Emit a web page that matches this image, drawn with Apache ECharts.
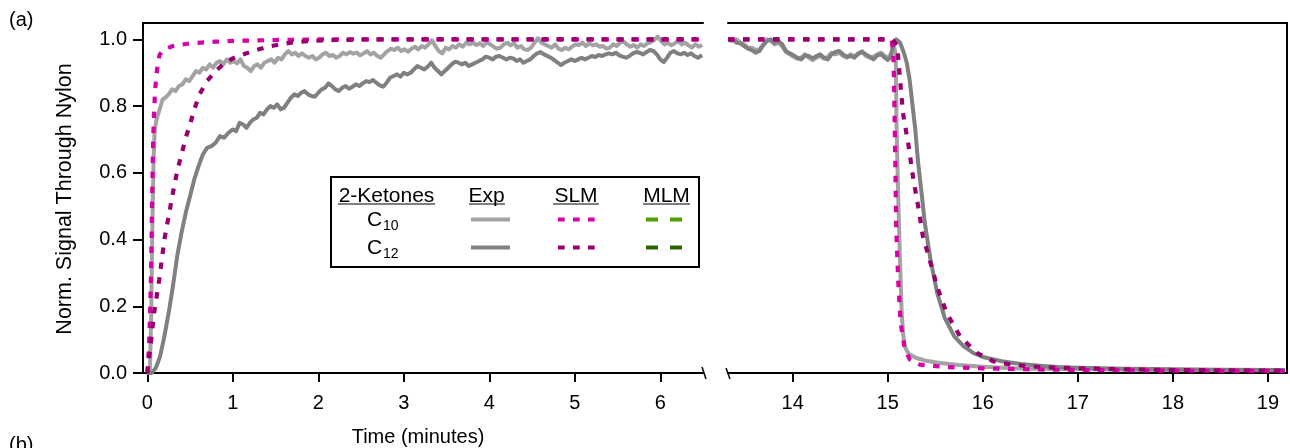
<!DOCTYPE html>
<html>
<head>
<meta charset="utf-8">
<script src="https://cdn.jsdelivr.net/npm/echarts@6/dist/echarts.min.js"></script>
<style>html,body{margin:0;padding:0;background:#fff}#c{width:1290px;height:448px}</style>
</head>
<body>
<div id="c"></div>
<script>
// ---------- DATA ----------
const leftTicks = [0, 1, 2, 3, 4, 5, 6];
const rightTicks = [14, 15, 16, 17, 18, 19];
const yTicks = [0, 0.2, 0.4, 0.6, 0.8, 1.0];

// Experimental C10 (left panel, adsorption)
const expC10Left = [[0,0],[0.03,0.005],[0.045,0.16],[0.055,0.36],[0.065,0.52],[0.075,0.65],[0.085,0.72],[0.1,0.75],[0.12,0.77],[0.15,0.795],[0.18,0.82],[0.21,0.825],[0.25,0.835],[0.29,0.85],[0.33,0.845],[0.37,0.86],[0.41,0.865],[0.45,0.88],[0.49,0.875],[0.53,0.89],[0.57,0.905],[0.61,0.9],[0.65,0.915],[0.69,0.91],[0.73,0.925],[0.77,0.915],[0.81,0.93],[0.85,0.935],[0.89,0.925],[0.93,0.94],[0.97,0.93],[1.01,0.935],[1.05,0.928],[1.09,0.94],[1.13,0.92],[1.17,0.915],[1.21,0.905],[1.25,0.92],[1.29,0.925],[1.33,0.915],[1.37,0.93],[1.41,0.935],[1.45,0.94],[1.49,0.93],[1.53,0.945],[1.57,0.94],[1.61,0.955],[1.65,0.965],[1.69,0.955],[1.73,0.96],[1.77,0.95],[1.81,0.958],[1.85,0.95],[1.89,0.945],[1.93,0.95],[1.97,0.94],[2.01,0.945],[2.05,0.955],[2.09,0.96],[2.13,0.95],[2.17,0.953],[2.21,0.945],[2.25,0.95],[2.29,0.96],[2.33,0.955],[2.37,0.962],[2.41,0.957],[2.45,0.96],[2.49,0.952],[2.53,0.958],[2.57,0.965],[2.61,0.955],[2.65,0.96],[2.69,0.95],[2.73,0.945],[2.77,0.955],[2.81,0.965],[2.85,0.972],[2.89,0.968],[2.93,0.975],[2.97,0.965],[3.01,0.97],[3.05,0.963],[3.09,0.972],[3.13,0.978],[3.17,0.97],[3.21,0.98],[3.25,0.975],[3.29,0.985],[3.33,0.997],[3.37,0.98],[3.41,0.965],[3.45,0.958],[3.49,0.975],[3.53,0.97],[3.57,0.98],[3.61,0.975],[3.65,0.985],[3.69,0.978],[3.73,0.99],[3.77,0.985],[3.81,0.99],[3.85,0.983],[3.89,0.988],[3.93,0.98],[3.97,0.992],[4.01,0.985],[4.05,0.978],[4.09,0.972],[4.13,0.975],[4.17,0.985],[4.21,0.99],[4.25,0.982],[4.29,0.988],[4.33,0.975],[4.37,0.98],[4.41,0.97],[4.45,0.968],[4.49,0.975],[4.53,0.99],[4.57,1.003],[4.61,0.99],[4.65,0.985],[4.69,0.98],[4.73,0.975],[4.77,0.985],[4.81,0.972],[4.85,0.968],[4.89,0.975],[4.93,0.97],[4.97,0.978],[5.01,0.985],[5.05,0.983],[5.09,0.99],[5.13,0.98],[5.17,0.988],[5.21,0.982],[5.25,0.985],[5.29,0.978],[5.33,0.98],[5.37,0.972],[5.41,0.975],[5.45,0.985],[5.49,0.98],[5.53,0.99],[5.57,0.993],[5.61,0.985],[5.65,0.978],[5.69,0.983],[5.73,0.975],[5.77,0.985],[5.81,0.98],[5.85,0.988],[5.89,0.992],[5.93,0.998],[5.97,1.008],[6.01,0.995],[6.05,0.985],[6.09,0.99],[6.13,0.982],[6.17,0.988],[6.21,0.995],[6.25,0.985],[6.29,0.99],[6.33,0.982],[6.37,0.975],[6.41,0.985],[6.45,0.978],[6.49,0.983]];

// Experimental C12 (left panel)
const expC12Left = [[0,0],[0.05,0.0],[0.1,0.015],[0.15,0.05],[0.2,0.11],[0.25,0.18],[0.3,0.26],[0.35,0.35],[0.4,0.42],[0.45,0.48],[0.5,0.53],[0.55,0.58],[0.6,0.62],[0.65,0.655],[0.7,0.675],[0.75,0.68],[0.8,0.69],[0.85,0.71],[0.9,0.705],[0.95,0.72],[1.0,0.73],[1.04,0.725],[1.08,0.75],[1.12,0.745],[1.16,0.735],[1.2,0.75],[1.24,0.76],[1.28,0.765],[1.32,0.78],[1.36,0.775],[1.4,0.79],[1.44,0.8],[1.48,0.795],[1.52,0.805],[1.56,0.79],[1.6,0.795],[1.64,0.81],[1.68,0.825],[1.72,0.835],[1.76,0.83],[1.8,0.84],[1.84,0.845],[1.88,0.835],[1.92,0.83],[1.96,0.828],[2.0,0.84],[2.04,0.85],[2.08,0.855],[2.12,0.868],[2.16,0.86],[2.2,0.85],[2.24,0.845],[2.28,0.855],[2.32,0.86],[2.36,0.852],[2.4,0.858],[2.44,0.865],[2.48,0.86],[2.52,0.868],[2.56,0.875],[2.6,0.872],[2.64,0.878],[2.68,0.87],[2.72,0.862],[2.76,0.858],[2.8,0.87],[2.84,0.885],[2.88,0.89],[2.92,0.895],[2.96,0.888],[3.0,0.9],[3.04,0.895],[3.08,0.9],[3.12,0.91],[3.16,0.92],[3.2,0.915],[3.24,0.91],[3.28,0.918],[3.32,0.93],[3.36,0.915],[3.4,0.905],[3.44,0.895],[3.48,0.905],[3.52,0.915],[3.56,0.925],[3.6,0.933],[3.64,0.93],[3.68,0.925],[3.72,0.93],[3.76,0.92],[3.8,0.925],[3.84,0.93],[3.88,0.935],[3.92,0.94],[3.96,0.948],[4.0,0.945],[4.04,0.94],[4.08,0.948],[4.12,0.95],[4.16,0.945],[4.2,0.94],[4.24,0.945],[4.28,0.943],[4.32,0.935],[4.36,0.94],[4.4,0.93],[4.44,0.935],[4.48,0.94],[4.52,0.95],[4.56,0.958],[4.6,0.962],[4.64,0.955],[4.68,0.95],[4.72,0.945],[4.76,0.938],[4.8,0.93],[4.84,0.923],[4.88,0.93],[4.92,0.935],[4.96,0.94],[5.0,0.935],[5.04,0.94],[5.08,0.945],[5.12,0.94],[5.16,0.945],[5.2,0.95],[5.24,0.947],[5.28,0.953],[5.32,0.95],[5.36,0.955],[5.4,0.958],[5.44,0.955],[5.48,0.96],[5.52,0.952],[5.56,0.948],[5.6,0.945],[5.64,0.95],[5.68,0.958],[5.72,0.962],[5.76,0.96],[5.8,0.955],[5.84,0.962],[5.88,0.968],[5.92,0.965],[5.96,0.955],[6.0,0.94],[6.04,0.932],[6.08,0.945],[6.12,0.96],[6.16,0.965],[6.2,0.958],[6.24,0.955],[6.28,0.96],[6.32,0.953],[6.36,0.958],[6.4,0.95],[6.44,0.945],[6.49,0.952]];

// SLM model, left panel
const slmC10Left = [[0,0],[0.01,0.03],[0.02,0.08],[0.03,0.15],[0.04,0.25],[0.047,0.345],[0.058,0.54],[0.066,0.66],[0.074,0.74],[0.09,0.84],[0.105,0.89],[0.125,0.93],[0.144,0.953],[0.17,0.964],[0.2,0.97],[0.3,0.98],[0.5,0.988],[0.8,0.993],[1.1,0.996],[1.5,0.998],[2,1.0],[3,1.0],[4,1.0],[5,1.0],[6,1.0],[6.5,1.0]];
const slmC12Left = [[0,0],[0.02,0.04],[0.05,0.11],[0.08,0.18],[0.11,0.23],[0.14,0.28],[0.17,0.34],[0.2,0.4],[0.25,0.47],[0.3,0.54],[0.35,0.605],[0.4,0.655],[0.45,0.705],[0.5,0.745],[0.55,0.79],[0.61,0.835],[0.7,0.875],[0.8,0.905],[0.9,0.928],[1.0,0.943],[1.1,0.953],[1.25,0.966],[1.4,0.977],[1.55,0.985],[1.7,0.991],[1.9,0.995],[2.2,0.998],[2.6,1.0],[3.5,1.0],[4.5,1.0],[5.5,1.0],[6.5,1.0]];

// Right panel (desorption)
const expC10Right = [[13.33,1.0],[13.37,0.995],[13.41,1.0],[13.45,0.99],[13.49,0.985],[13.53,0.975],[13.57,0.975],[13.61,0.968],[13.65,0.97],[13.69,0.985],[13.73,1.0],[13.77,0.995],[13.81,0.985],[13.85,0.99],[13.89,0.978],[13.93,0.962],[13.97,0.955],[14.01,0.948],[14.05,0.942],[14.09,0.945],[14.13,0.955],[14.17,0.945],[14.21,0.938],[14.25,0.945],[14.29,0.95],[14.33,0.942],[14.37,0.948],[14.41,0.96],[14.45,0.955],[14.49,0.96],[14.53,0.95],[14.57,0.945],[14.61,0.955],[14.65,0.95],[14.69,0.955],[14.73,0.965],[14.77,0.95],[14.81,0.945],[14.85,0.948],[14.89,0.955],[14.93,0.96],[14.97,0.95],[15.01,0.945],[15.04,0.96],[15.07,0.975],[15.085,0.95],[15.092,0.75],[15.11,0.53],[15.13,0.33],[15.147,0.18],[15.165,0.11],[15.18,0.08],[15.21,0.062],[15.235,0.055],[15.3,0.045],[15.4,0.037],[15.55,0.03],[15.75,0.024],[16,0.019],[16.25,0.015],[16.5,0.013],[17,0.011],[17.5,0.01],[18,0.009],[18.5,0.009],[19.18,0.008]];
const expC12Right = [[13.33,0.995],[13.37,1.0],[13.41,0.99],[13.45,0.988],[13.49,0.98],[13.53,0.972],[13.57,0.968],[13.61,0.96],[13.65,0.965],[13.69,0.982],[13.73,0.995],[13.77,1.0],[13.81,0.99],[13.85,0.995],[13.89,0.985],[13.93,0.965],[13.97,0.958],[14.01,0.952],[14.05,0.945],[14.09,0.94],[14.13,0.952],[14.17,0.95],[14.21,0.943],[14.25,0.95],[14.29,0.955],[14.33,0.945],[14.37,0.94],[14.41,0.955],[14.45,0.962],[14.49,0.965],[14.53,0.955],[14.57,0.948],[14.61,0.95],[14.65,0.945],[14.69,0.958],[14.73,0.962],[14.77,0.955],[14.81,0.948],[14.85,0.94],[14.89,0.952],[14.93,0.955],[14.97,0.945],[15.0,0.938],[15.03,0.945],[15.06,0.99],[15.09,1.0],[15.13,0.99],[15.17,0.96],[15.2,0.93],[15.23,0.88],[15.25,0.83],[15.29,0.73],[15.32,0.63],[15.36,0.53],[15.39,0.45],[15.45,0.34],[15.52,0.24],[15.6,0.165],[15.7,0.11],[15.8,0.08],[15.9,0.06],[16.0,0.048],[16.2,0.035],[16.4,0.027],[16.6,0.022],[16.8,0.018],[17.0,0.016],[17.5,0.013],[18,0.011],[18.5,0.01],[19.18,0.009]];
const slmC10Right = [[13.32,1.0],[14.5,1.0],[15.04,1.0],[15.06,0.96],[15.066,0.88],[15.08,0.63],[15.09,0.43],[15.11,0.28],[15.136,0.15],[15.18,0.07],[15.235,0.04],[15.34,0.025],[15.6,0.018],[16,0.014],[16.5,0.011],[17,0.009],[18,0.007],[19.2,0.006]];
const slmC12Right = [[13.32,1.0],[14.5,1.0],[15.05,1.0],[15.1,0.98],[15.13,0.88],[15.16,0.78],[15.22,0.68],[15.27,0.58],[15.32,0.5],[15.37,0.41],[15.45,0.33],[15.53,0.25],[15.62,0.18],[15.76,0.11],[15.94,0.06],[16.11,0.035],[16.3,0.025],[16.6,0.018],[17,0.014],[17.5,0.011],[18,0.009],[18.5,0.008],[19.2,0.007]];

// ---------- STYLE ----------
const FONT = 'Liberation Sans, Arial, sans-serif';
const C_EXP10 = '#a3a3a3', C_EXP12 = '#808080';
const C_SLM10 = '#d800a8', C_SLM12 = '#98006f';
const C_MLM10 = '#4f9e00', C_MLM12 = '#2d6300';
const DASH = [6.5, 8.5];

const chart = echarts.init(document.getElementById('c'), null, {renderer: 'canvas'});

function bottomAxis(grid, min, max, ticks) {
  return {
    type: 'value', gridIndex: grid, min: min, max: max, position: 'bottom',
    axisLine: {show: true, onZero: false, lineStyle: {color: '#000', width: 2}},
    axisTick: {show: true, inside: false, length: 9, lineStyle: {color: '#000', width: 2}, customValues: ticks},
    axisLabel: {show: true, color: '#000', fontSize: 20, fontFamily: FONT, margin: 20, customValues: ticks},
    splitLine: {show: false}
  };
}
function topAxis(grid, min, max) {
  return {
    type: 'value', gridIndex: grid, min: min, max: max, position: 'top',
    axisLine: {show: true, onZero: false, lineStyle: {color: '#000', width: 2}},
    axisTick: {show: false}, axisLabel: {show: false}, splitLine: {show: false}
  };
}
function line(name, data, xi, yi, color, dashed) {
  return {
    name: name, type: 'line', data: data, xAxisIndex: xi, yAxisIndex: yi,
    showSymbol: false, symbol: 'none', smooth: false, clip: true, animation: false,
    lineStyle: {color: color, width: dashed ? 4.2 : 4, type: dashed ? DASH : 'solid', cap: 'butt', join: 'round'}
  };
}

const YMAX = 1.049;

const option = {
  animation: false,
  backgroundColor: '#fff',
  textStyle: {fontFamily: FONT},
  grid: [
    {left: 143, top: 23, width: 560, height: 350, containLabel: false},
    {left: 728, top: 23, width: 559, height: 350, containLabel: false}
  ],
  xAxis: [
    bottomAxis(0, -0.05, 6.5, leftTicks),
    topAxis(0, -0.05, 6.5),
    bottomAxis(1, 13.32, 19.2, rightTicks),
    topAxis(1, 13.32, 19.2)
  ],
  yAxis: [
    {
      type: 'value', gridIndex: 0, min: 0, max: YMAX, position: 'left',
      axisLine: {show: true, onZero: false, lineStyle: {color: '#000', width: 2}},
      axisTick: {show: true, inside: false, length: 10, lineStyle: {color: '#000', width: 2}, customValues: yTicks},
      axisLabel: {show: true, color: '#000', fontSize: 20, fontFamily: FONT, margin: 16, customValues: yTicks,
        formatter: function (v) { return v.toFixed(1); }},
      splitLine: {show: false}
    },
    {
      type: 'value', gridIndex: 1, min: 0, max: YMAX, position: 'right',
      axisLine: {show: true, onZero: false, lineStyle: {color: '#000', width: 2}},
      axisTick: {show: false}, axisLabel: {show: false}, splitLine: {show: false}
    }
  ],
  series: [
    line('Exp C10', expC10Left, 0, 0, C_EXP10, false),
    line('Exp C12', expC12Left, 0, 0, C_EXP12, false),
    line('SLM C10', slmC10Left, 0, 0, C_SLM10, true),
    line('SLM C12', slmC12Left, 0, 0, C_SLM12, true),
    line('Exp C10 r', expC10Right, 2, 1, C_EXP10, false),
    line('Exp C12 r', expC12Right, 2, 1, C_EXP12, false),
    line('SLM C10 r', slmC10Right, 2, 1, C_SLM10, true),
    line('SLM C12 r', slmC12Right, 2, 1, C_SLM12, true)
  ],
  graphic: [
    // panel labels and axis titles
    {type: 'text', x: 9, y: 20, style: {text: '(a)', font: '20px ' + FONT, fill: '#000', align: 'left', verticalAlign: 'middle'}},
    {type: 'text', x: 9, y: 445, style: {text: '(b)', font: '20px ' + FONT, fill: '#000', align: 'left', verticalAlign: 'middle'}},
    {type: 'text', x: 65, y: 199, rotation: Math.PI / 2, style: {text: 'Norm. Signal Through Nylon', font: '21.5px ' + FONT, fill: '#000', align: 'center', verticalAlign: 'middle'}},
    {type: 'text', x: 418, y: 437, style: {text: 'Time (minutes)', font: '20px ' + FONT, fill: '#000', align: 'center', verticalAlign: 'middle'}},
    // axis break marks
    {type: 'line', shape: {x1: 702, y1: 367, x2: 706, y2: 379}, style: {stroke: '#000', lineWidth: 1.5}},
    {type: 'line', shape: {x1: 726, y1: 368, x2: 730, y2: 379}, style: {stroke: '#000', lineWidth: 1.5}},
    // legend box
    {type: 'rect', z: 10, shape: {x: 331, y: 177, width: 368, height: 90}, style: {fill: '#fff', stroke: '#000', lineWidth: 2}},
    {type: 'text', z: 11, x: 386.5, y: 196, style: {text: '2-Ketones', font: '21px ' + FONT, fill: '#000', align: 'center', verticalAlign: 'middle'}},
    {type: 'text', z: 11, x: 486.5, y: 196, style: {text: 'Exp', font: '21px ' + FONT, fill: '#000', align: 'center', verticalAlign: 'middle'}},
    {type: 'text', z: 11, x: 576, y: 196, style: {text: 'SLM', font: '21px ' + FONT, fill: '#000', align: 'center', verticalAlign: 'middle'}},
    {type: 'text', z: 11, x: 666.5, y: 196, style: {text: 'MLM', font: '21px ' + FONT, fill: '#000', align: 'center', verticalAlign: 'middle'}},
    {type: 'line', z: 11, shape: {x1: 338, y1: 204, x2: 435, y2: 204}, style: {stroke: '#000', lineWidth: 1.2}},
    {type: 'line', z: 11, shape: {x1: 469, y1: 204, x2: 505, y2: 204}, style: {stroke: '#000', lineWidth: 1.2}},
    {type: 'line', z: 11, shape: {x1: 553, y1: 204, x2: 599, y2: 204}, style: {stroke: '#000', lineWidth: 1.2}},
    {type: 'line', z: 11, shape: {x1: 643, y1: 204, x2: 690, y2: 204}, style: {stroke: '#000', lineWidth: 1.2}},
    {type: 'text', z: 11, x: 367, y: 220, style: {text: 'C', font: '21px ' + FONT, fill: '#000', align: 'left', verticalAlign: 'middle'}},
    {type: 'text', z: 11, x: 383, y: 226, style: {text: '10', font: '14px ' + FONT, fill: '#000', align: 'left', verticalAlign: 'middle'}},
    {type: 'text', z: 11, x: 367, y: 248, style: {text: 'C', font: '21px ' + FONT, fill: '#000', align: 'left', verticalAlign: 'middle'}},
    {type: 'text', z: 11, x: 383, y: 254, style: {text: '12', font: '14px ' + FONT, fill: '#000', align: 'left', verticalAlign: 'middle'}},
    {type: 'line', z: 11, shape: {x1: 471, y1: 219.5, x2: 510, y2: 219.5}, style: {stroke: C_EXP10, lineWidth: 4}},
    {type: 'line', z: 11, shape: {x1: 471, y1: 247.5, x2: 510, y2: 247.5}, style: {stroke: C_EXP12, lineWidth: 4}},
    {type: 'line', z: 11, shape: {x1: 558, y1: 219.5, x2: 596, y2: 219.5}, style: {stroke: C_SLM10, lineWidth: 4, lineDash: [6.7, 8.3]}},
    {type: 'line', z: 11, shape: {x1: 558, y1: 247.5, x2: 596, y2: 247.5}, style: {stroke: C_SLM12, lineWidth: 4, lineDash: [6.7, 8.3]}},
    {type: 'line', z: 11, shape: {x1: 646, y1: 219.5, x2: 683, y2: 219.5}, style: {stroke: C_MLM10, lineWidth: 4, lineDash: [12, 12]}},
    {type: 'line', z: 11, shape: {x1: 646, y1: 247.5, x2: 683, y2: 247.5}, style: {stroke: C_MLM12, lineWidth: 4, lineDash: [12, 12]}}
  ]
};
chart.setOption(option);
</script>
</body>
</html>
